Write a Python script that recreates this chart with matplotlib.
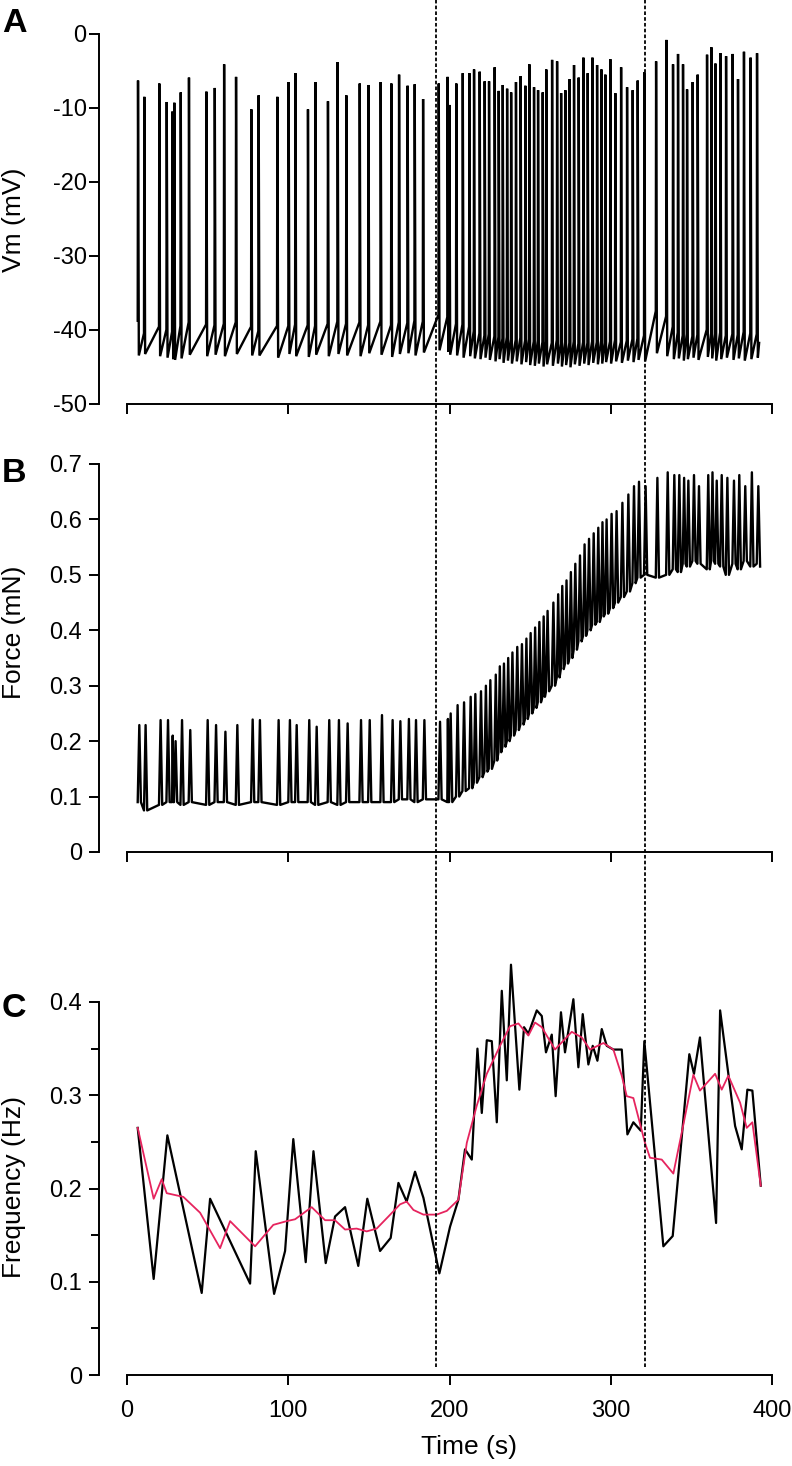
import matplotlib
matplotlib.use("Agg")
import matplotlib.pyplot as plt
from matplotlib.lines import Line2D
from matplotlib import transforms

plt.rcParams['font.family'] = ['Liberation Sans', 'DejaVu Sans']

# ---------------- data ----------------
# spike times (s), peak potential (mV), pre-spike level (mV), after-hyperpolarisation trough (mV)
spike_t = [6.6, 10.5, 19.8, 24.4, 27.9, 29.1, 33.1, 38.2, 49.0, 54.2,
           60.0, 67.4, 76.9, 81.4, 93.0, 100.0, 104.2, 112.0, 116.6, 124.4,
           130.4, 135.8, 144.1, 149.5, 157.1, 163.7, 168.5, 173.8, 178.2, 183.4,
           193.1, 198.6, 199.7, 204.0, 208.0, 212.1, 215.0, 218.5, 221.6, 224.3,
           227.8, 230.3, 232.8, 235.5, 238.0, 241.0, 243.9, 246.8, 249.3, 252.2,
           254.7, 257.6, 259.8, 263.4, 266.5, 269.0, 271.6, 274.3, 277.0, 279.9,
           282.8, 285.5, 288.4, 291.3, 294.0, 296.4, 299.5, 302.6, 306.2, 309.9,
           313.4, 316.5, 320.6, 327.9, 334.3, 338.4, 341.5, 344.6, 347.1, 350.6,
           353.7, 359.5, 362.2, 364.7, 367.8, 371.3, 375.4, 378.7, 382.4, 386.5,
           390.5]
spike_peak = [-6.3, -8.5, -6.7, -9.2, -10.5, -9.3, -7.9, -5.9, -7.8, -7.3,
              -4.1, -5.8, -10.2, -8.3, -8.5, -6.5, -5.3, -10.2, -6.5, -9.1,
              -3.8, -8.3, -6.7, -6.9, -6.5, -6.7, -5.5, -7.0, -6.8, -8.8,
              -6.7, -5.8, -9.6, -6.7, -5.3, -5.3, -4.8, -5.1, -6.4, -6.4,
              -4.5, -7.7, -6.9, -7.4, -7.9, -6.5, -5.7, -7.0, -4.1, -7.2,
              -7.6, -7.9, -4.8, -3.5, -3.7, -8.0, -7.6, -6.1, -4.2, -5.9,
              -3.2, -5.3, -3.2, -4.2, -4.8, -5.5, -3.4, -8.0, -4.5, -7.2,
              -7.6, -6.3, -5.2, -3.7, -0.8, -4.1, -2.7, -4.1, -7.5, -6.5,
              -5.5, -2.8, -1.8, -4.0, -2.6, -3.0, -2.7, -6.1, -2.4, -3.2,
              -2.6]
spike_thr = [-38.8, -40.5, -39.6, -40.0, -40.3, -40.3, -39.5, -39.0, -39.3, -39.4,
             -39.2, -39.0, -39.6, -40.2, -39.5, -39.5, -39.3, -39.4, -39.5, -39.2,
             -38.9, -39.2, -39.0, -39.4, -38.9, -39.4, -39.0, -39.1, -38.8, -38.9,
             -38.0, -38.3, -38.6, -39.2, -39.3, -39.6, -40.2, -40.5, -40.8, -40.6,
             -40.9, -41.0, -41.2, -41.0, -41.3, -41.4, -41.1, -41.5, -41.3, -41.6,
             -41.5, -41.7, -41.6, -41.8, -41.4, -41.9, -41.7, -41.8, -41.6, -41.9,
             -41.7, -41.8, -41.6, -41.7, -41.5, -41.8, -41.6, -41.4, -41.7, -41.5,
             -41.3, -41.2, -40.8, -37.5, -38.2, -39.6, -40.4, -40.8, -40.6, -40.9,
             -40.7, -40.0, -40.5, -40.6, -40.4, -40.8, -40.6, -40.7, -40.3, -40.5,
             -40.6]
spike_ahp = [-43.5, -43.3, -43.6, -43.8, -44.0, -44.1, -43.9, -43.4, -43.6, -43.4,
             -43.6, -43.3, -43.5, -43.5, -43.8, -43.3, -43.6, -43.7, -43.4, -43.6,
             -43.3, -43.5, -43.6, -43.2, -43.4, -43.7, -43.3, -43.2, -43.5, -43.1,
             -42.8, -43.0, -43.4, -43.5, -43.8, -43.6, -43.9, -44.0, -43.8, -44.1,
             -44.3, -44.0, -44.5, -44.2, -44.6, -44.3, -44.7, -44.4, -44.8, -44.9,
             -44.6, -45.0, -44.7, -44.9, -44.6, -45.0, -44.8, -45.1, -44.7, -44.9,
             -44.6, -44.8, -44.5, -44.7, -44.6, -44.4, -44.6, -44.3, -44.5, -44.2,
             -44.4, -44.1, -44.3, -43.2, -43.6, -44.0, -43.9, -44.2, -44.0, -43.8,
             -44.1, -43.7, -43.9, -44.2, -44.0, -43.8, -44.1, -43.9, -44.2, -44.0,
             -43.8]
vm_end_t, vm_end_v = 392.0, -41.8

# force: twitch peak and inter-twitch level for each spike (mN)
force_peak = [0.229, 0.229, 0.238, 0.238, 0.210, 0.200, 0.238, 0.220, 0.238, 0.229,
              0.217, 0.229, 0.239, 0.238, 0.238, 0.238, 0.229, 0.238, 0.226, 0.238,
              0.238, 0.232, 0.238, 0.238, 0.247, 0.238, 0.236, 0.240, 0.238, 0.238,
              0.235, 0.240, 0.250, 0.265, 0.270, 0.280, 0.285, 0.290, 0.300, 0.310,
              0.320, 0.335, 0.340, 0.350, 0.360, 0.370, 0.375, 0.385, 0.395, 0.405,
              0.415, 0.425, 0.435, 0.450, 0.465, 0.480, 0.490, 0.505, 0.520, 0.535,
              0.555, 0.565, 0.575, 0.585, 0.595, 0.600, 0.610, 0.615, 0.630, 0.645,
              0.660, 0.668, 0.660, 0.675, 0.685, 0.680, 0.680, 0.675, 0.670, 0.680,
              0.660, 0.680, 0.685, 0.670, 0.680, 0.675, 0.670, 0.680, 0.660, 0.685,
              0.660]
force_base = [0.090, 0.075, 0.085, 0.090, 0.090, 0.090, 0.085, 0.090, 0.085, 0.090,
              0.090, 0.085, 0.090, 0.090, 0.085, 0.090, 0.090, 0.090, 0.085, 0.090,
              0.085, 0.090, 0.090, 0.090, 0.090, 0.090, 0.095, 0.095, 0.090, 0.095,
              0.095, 0.090, 0.090, 0.100, 0.110, 0.115, 0.125, 0.135, 0.145, 0.150,
              0.165, 0.180, 0.190, 0.200, 0.210, 0.220, 0.230, 0.240, 0.250, 0.260,
              0.270, 0.280, 0.290, 0.300, 0.315, 0.330, 0.340, 0.350, 0.365, 0.380,
              0.390, 0.400, 0.410, 0.415, 0.425, 0.430, 0.440, 0.450, 0.460, 0.470,
              0.485, 0.495, 0.500, 0.495, 0.500, 0.510, 0.505, 0.520, 0.515, 0.525,
              0.520, 0.510, 0.525, 0.520, 0.515, 0.500, 0.520, 0.510, 0.525, 0.515,
              0.520]
force_end_t, force_end_v = 392.6, 0.515

# instantaneous frequency (black) and smoothed frequency (red)
freq_t = [6.6, 16.5, 25.0, 46.3, 51.5, 76.3, 79.8, 91.2, 98.0, 103.1,
          110.8, 115.6, 123.2, 129.0, 135.2, 143.4, 149.0, 156.9, 163.5, 168.3,
          173.4, 178.6, 183.8, 193.7, 200.3, 205.5, 209.6, 213.8, 217.3, 220.0,
          223.1, 226.2, 229.3, 232.4, 235.5, 238.1, 243.3, 246.2, 248.9, 254.1,
          257.2, 259.8, 263.4, 265.8, 269.1, 271.6, 276.8, 279.9, 282.6, 286.1,
          288.8, 291.7, 294.4, 297.5, 301.6, 306.8, 310.3, 314.0, 318.6, 320.8,
          332.6, 338.4, 348.7, 351.6, 355.3, 365.3, 367.8, 377.1, 381.2, 384.7,
          387.8, 393.0]
freq_v = [0.265, 0.103, 0.257, 0.088, 0.189, 0.098, 0.240, 0.087, 0.133, 0.253,
          0.121, 0.240, 0.120, 0.170, 0.180, 0.117, 0.189, 0.133, 0.147, 0.206,
          0.186, 0.218, 0.190, 0.109, 0.159, 0.188, 0.242, 0.231, 0.350, 0.281,
          0.359, 0.358, 0.271, 0.412, 0.316, 0.440, 0.306, 0.373, 0.366, 0.391,
          0.385, 0.346, 0.365, 0.299, 0.389, 0.346, 0.403, 0.330, 0.387, 0.333,
          0.353, 0.337, 0.371, 0.353, 0.349, 0.349, 0.258, 0.271, 0.262, 0.358,
          0.138, 0.149, 0.344, 0.323, 0.362, 0.163, 0.391, 0.267, 0.242, 0.306,
          0.305, 0.203]
smooth_t = [6.6, 16.5, 21.5, 24.6, 34.9, 45.3, 57.7, 63.9, 79.4, 90.7,
            99.0, 104.2, 114.5, 122.8, 128.9, 135.2, 142.4, 148.6, 154.8, 162.1,
            169.3, 173.4, 177.6, 183.8, 192.0, 198.3, 205.5, 210.7, 216.9, 223.1,
            231.3, 237.5, 242.7, 248.9, 253.0, 257.2, 265.4, 275.8, 282.0, 287.1,
            295.4, 301.6, 306.8, 309.9, 314.0, 321.2, 324.3, 331.6, 338.8, 344.6,
            351.2, 355.3, 364.7, 368.8, 372.9, 380.2, 384.3, 387.8, 393.0]
smooth_v = [0.265, 0.189, 0.210, 0.195, 0.191, 0.174, 0.136, 0.165, 0.138, 0.161,
            0.165, 0.167, 0.180, 0.166, 0.166, 0.156, 0.157, 0.154, 0.157, 0.170,
            0.183, 0.186, 0.177, 0.172, 0.172, 0.176, 0.188, 0.249, 0.289, 0.323,
            0.353, 0.374, 0.377, 0.364, 0.378, 0.373, 0.349, 0.368, 0.362, 0.349,
            0.356, 0.349, 0.321, 0.299, 0.297, 0.249, 0.233, 0.231, 0.216, 0.265,
            0.322, 0.305, 0.323, 0.306, 0.321, 0.292, 0.265, 0.271, 0.203]

event_t = [191.4, 321.2]

x_ticks = [0, 100, 200, 300, 400]
x_ticklabels = ['0', '100', '200', '300', '400']
vm_ticks = [-50, -40, -30, -20, -10, 0]
vm_ticklabels = ['-50', '-40', '-30', '-20', '-10', '0']
force_ticks = [0, 0.1, 0.2, 0.3, 0.4, 0.5, 0.6, 0.7]
force_ticklabels = ['0', '0.1', '0.2', '0.3', '0.4', '0.5', '0.6', '0.7']
freq_ticks = [0, 0.1, 0.2, 0.3, 0.4]
freq_ticklabels = ['0', '0.1', '0.2', '0.3', '0.4']
freq_minor = [0.05, 0.15, 0.25, 0.35]

# ---------------- figure ----------------
W, H = 792, 1466
fig = plt.figure(figsize=(W / 100, H / 100), dpi=100)


def px_rect(left, top, right, bottom):
    return [left / W, 1 - bottom / H, (right - left) / W, (bottom - top) / H]


axA = fig.add_axes(px_rect(99, 34, 773, 403.5))
axB = fig.add_axes(px_rect(99, 464, 773, 852))
axC = fig.add_axes(px_rect(99, 1002, 773, 1375))

TICK_FS = 17
LABEL_FS = 19
SPW = 1.4

for ax in (axA, axB, axC):
    ax.set_xlim(-17.4, 400.6)
    ax.spines['top'].set_visible(False)
    ax.spines['right'].set_visible(False)
    ax.spines['left'].set_linewidth(SPW)
    ax.spines['bottom'].set_linewidth(SPW)
    ax.spines['bottom'].set_bounds(0, 400)
    ax.set_xticks(x_ticks)
    ax.tick_params(direction='out', length=7, width=SPW, labelsize=TICK_FS, colors='black')
    ax.patch.set_alpha(0)

# Panel A : membrane potential
vm_x, vm_y = [], []
for i, t in enumerate(spike_t):
    vm_x += [t, t + 0.2, t + 0.7]
    vm_y += [spike_thr[i], spike_peak[i], spike_ahp[i]]
vm_x.append(vm_end_t)
vm_y.append(vm_end_v)
axA.plot(vm_x, vm_y, color='black', lw=1.7, solid_joinstyle='miter')
axA.set_ylim(-50, 0)
axA.set_yticks(vm_ticks)
axA.set_yticklabels(vm_ticklabels)
axA.tick_params(axis='x', labelbottom=False)
axA.tick_params(axis='y', pad=2)
axA.set_ylabel('Vm (mV)', fontsize=LABEL_FS)
axA.yaxis.set_label_coords(-0.108, 0.497)

# Panel B : force
n = len(spike_t)
f_x, f_y = [], []
for i, t in enumerate(spike_t):
    isi = spike_t[i + 1] - t if i < n - 1 else 3.0
    f_x += [t, t + min(1.0, 0.35 * isi), t + min(2.0, 0.7 * isi)]
    f_y += [force_base[i], force_peak[i], force_base[i]]
f_x.append(force_end_t)
f_y.append(force_end_v)
axB.plot(f_x, f_y, color='black', lw=1.7)
axB.set_ylim(0, 0.7)
axB.set_yticks(force_ticks)
axB.set_yticklabels(force_ticklabels)
axB.tick_params(axis='x', labelbottom=False)
axB.tick_params(axis='y', pad=5)
axB.set_ylabel('Force (mN)', fontsize=LABEL_FS)
axB.yaxis.set_label_coords(-0.108, 0.567)

# Panel C : frequency
axC.plot(freq_t, freq_v, color='black', lw=1.6, zorder=3, clip_on=False)
axC.plot(smooth_t, smooth_v, color='#e6245e', lw=1.3, zorder=4, clip_on=False)
axC.set_ylim(0, 0.4)
axC.set_yticks(freq_ticks)
axC.set_yticklabels(freq_ticklabels)
axC.set_yticks(freq_minor, minor=True)
axC.tick_params(axis='y', which='minor', direction='out', length=6, width=SPW)
axC.tick_params(axis='y', pad=5)
axC.set_xticklabels(x_ticklabels)
axC.tick_params(axis='x', pad=11)
axC.set_ylabel('Frequency (Hz)', fontsize=LABEL_FS)
axC.yaxis.set_label_coords(-0.108, 0.504)
axC.set_xlabel('Time (s)', fontsize=LABEL_FS)
axC.xaxis.set_label_coords(0.549, -0.16)

# event lines running through all panels
fig.canvas.draw()
trans = transforms.blended_transform_factory(axC.transData, fig.transFigure)
y_bottom = 1 - 1367 / H
for t in event_t:
    fig.add_artist(Line2D([t, t], [y_bottom, 1.0], transform=trans, color='black',
                          lw=1.3, linestyle=(0, (2.0, 1.2)), zorder=10))

# panel letters
for letter, base in (('A', 32), ('B', 482), ('C', 1017)):
    fig.text(2 / W, 1 - base / H, letter, fontsize=24.5, fontweight='bold',
             ha='left', va='baseline')

fig.savefig('out.png', dpi=100)
